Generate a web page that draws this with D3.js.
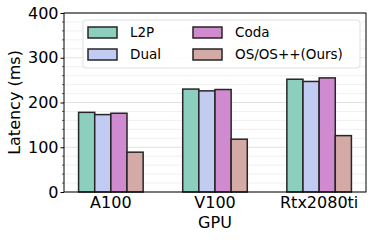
<!DOCTYPE html>
<html>
<head>
<meta charset="utf-8">
<script src="https://cdn.jsdelivr.net/npm/d3@7"></script>
<style>
    body { margin: 0; background: #fff; }
    text { font-family: "DejaVu Sans", sans-serif; fill: #000; }
</style>
</head>
<body>
<div id="chart"></div>
<script>
// data
var gpus = ["A100", "V100", "Rtx2080ti"];
var methods = ["L2P", "Dual", "Coda", "OS/OS++(Ours)"];
var colors = ["#8dcfbf", "#c2cbf2", "#d08bd0", "#d4aaa6"];
var l2p = [178, 230, 252];
var dual = [173, 226, 247];
var coda = [176, 229, 255];
var ours = [89, 118, 126];
var yTicks = [0, 100, 200, 300, 400];

var series = [l2p, dual, coda, ours];

var W = 374, H = 240;
var m = {left: 64, right: 8, top: 13, bottom: 48};

var svg = d3.select("#chart").append("svg")
    .attr("width", W).attr("height", H);

var x = d3.scaleLinear().domain([-0.45, 2.45]).range([m.left, W - m.right]);
var y = d3.scaleLinear().domain([0, 400]).range([H - m.bottom, m.top]);
var barW = 0.155;

var g = svg.append("g");

// grid: minor then major
var minor = d3.range(0, 401, 20).filter(function (d) { return d % 100 != 0; });
g.selectAll(".minor").data(minor).enter().append("line")
    .attr("x1", m.left).attr("x2", W - m.right)
    .attr("y1", function (d) { return y(d); }).attr("y2", function (d) { return y(d); })
    .attr("stroke", "#ececec").attr("stroke-width", 0.8);
g.selectAll(".major").data(yTicks).enter().append("line")
    .attr("x1", m.left).attr("x2", W - m.right)
    .attr("y1", function (d) { return y(d); }).attr("y2", function (d) { return y(d); })
    .attr("stroke", "#dcdcdc").attr("stroke-width", 0.8);

// bars
series.forEach(function (vals, s) {
    g.selectAll(".bar" + s).data(vals).enter().append("rect")
        .attr("x", function (d, i) { return x(i + (s - 2) * barW); })
        .attr("width", x(barW) - x(0))
        .attr("y", function (d) { return y(d); })
        .attr("height", function (d) { return y(0) - y(d); })
        .attr("fill", colors[s])
        .attr("stroke", "#262626")
        .attr("stroke-width", 1.5);
});

// frame
svg.append("rect")
    .attr("x", m.left).attr("y", m.top)
    .attr("width", W - m.right - m.left).attr("height", H - m.bottom - m.top)
    .attr("fill", "none").attr("stroke", "#000").attr("stroke-width", 1);

// y axis
var yAxis = d3.axisLeft(y).tickValues(yTicks).tickSize(3.5).tickPadding(2);
var ya = svg.append("g").attr("transform", "translate(" + m.left + ",0)").call(yAxis);
ya.select(".domain").remove();
ya.selectAll("text").style("font-size", "16px").style("font-family", "DejaVu Sans");
ya.selectAll(".minorTick").data(minor).enter().append("line")
    .attr("class", "minorTick")
    .attr("x1", -2).attr("x2", 0)
    .attr("y1", function (d) { return y(d); }).attr("y2", function (d) { return y(d); })
    .attr("stroke", "#000").attr("stroke-width", 0.6);

// x labels
svg.selectAll(".xl").data(gpus).enter().append("text")
    .attr("x", function (d, i) { return x(i); })
    .attr("y", 208)
    .attr("text-anchor", "middle")
    .style("font-size", "16px")
    .text(function (d) { return d; });

svg.append("text")
    .attr("x", x(1)).attr("y", 228)
    .attr("text-anchor", "middle")
    .style("font-size", "16px")
    .text("GPU");

svg.append("text")
    .attr("transform", "translate(20," + ((m.top + H - m.bottom) / 2) + ") rotate(-90)")
    .attr("text-anchor", "middle")
    .style("font-size", "16px")
    .text("Latency (ms)");

// legend
var leg = svg.append("g");
leg.append("rect")
    .attr("x", 83).attr("y", 20).attr("width", 277).attr("height", 48)
    .attr("rx", 3)
    .attr("fill", "#fff").attr("fill-opacity", 0.85)
    .attr("stroke", "#d8d8d8").attr("stroke-width", 0.8);
methods.forEach(function (name, i) {
    var col = Math.floor(i / 2), row = i % 2;
    var lx = 88 + col * 105, ly = 27 + row * 22;
    leg.append("rect")
        .attr("x", lx).attr("y", ly).attr("width", 29).attr("height", 11)
        .attr("fill", colors[i]).attr("stroke", "#262626").attr("stroke-width", 1.5);
    leg.append("text")
        .attr("x", lx + 42).attr("y", ly + 10)
        .style("font-size", "13.5px")
        .text(name);
});
</script>
</body>
</html>
